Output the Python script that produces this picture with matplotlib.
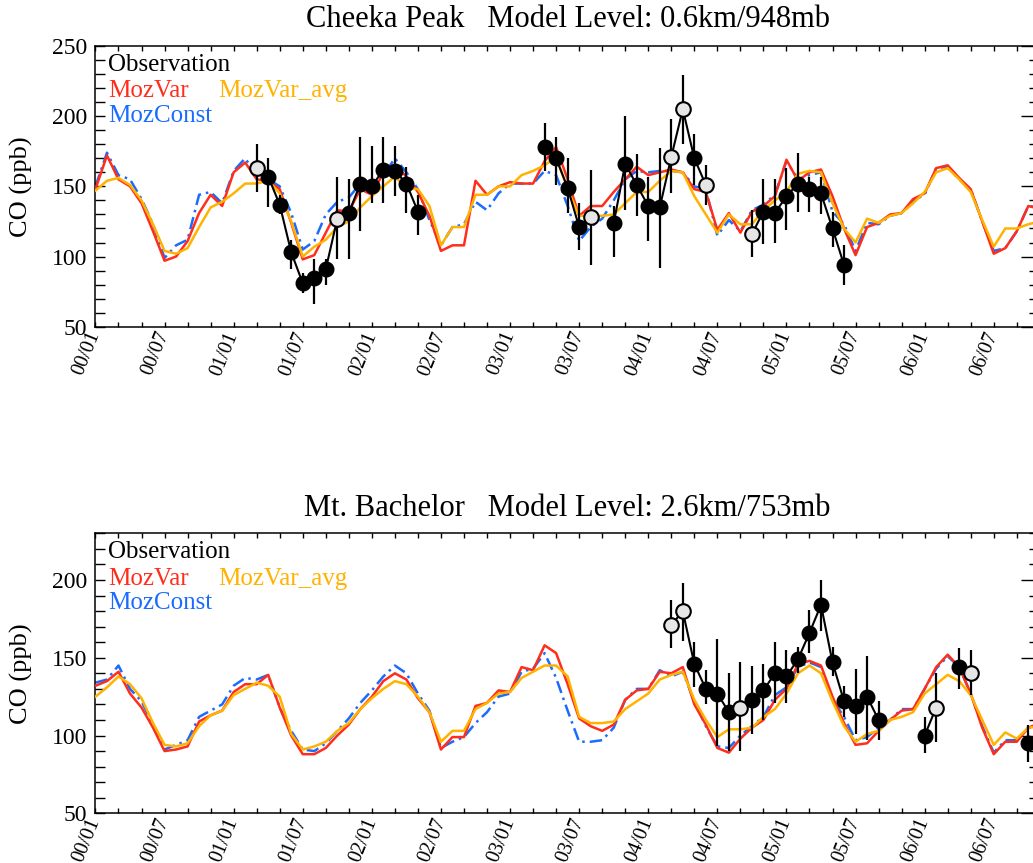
import numpy as np
import matplotlib
matplotlib.use("Agg")
import matplotlib.pyplot as plt
from matplotlib.ticker import MultipleLocator, NullFormatter

plt.rcParams['font.family'] = ['Liberation Serif', 'DejaVu Serif']

# monthly model output, month 0 = 2000/01
months = np.arange(83)
tick_months = [0, 6, 12, 18, 24, 30, 36, 42, 48, 54, 60, 66, 72, 78]
tick_labels = ['00/01', '00/07', '01/01', '01/07', '02/01', '02/07', '03/01',
               '03/07', '04/01', '04/07', '05/01', '05/07', '06/01', '06/07']

# ---- Cheeka Peak, 0.6km/948mb ----
cp_mozvar = [148, 172, 155, 150, 138, 118, 97, 100, 111, 131, 144, 136, 160, 167, 155, 154, 148, 124, 98, 101,
             117, 133, 132, 148, 144, 160, 165, 157, 146, 129, 104, 108, 108, 154, 144, 150, 153, 152, 152, 168,
             178, 155, 129, 136, 136, 146, 155, 164, 158, 160, 162, 160, 148, 146, 119, 131, 117, 132, 136, 143,
             169, 154, 160, 162, 143, 120, 101, 121, 124, 130, 131, 141, 145, 163, 165, 156, 148, 125, 102, 106,
             118, 136, 134]
cp_mozconst = [150, 174, 158, 155, 141, 123, 99, 108, 112, 144, 146, 138, 161, 170, 158, 155, 150, 131, 105, 111,
               130, 139, 142, 152, 151, 158, 170, 160, 148, 126, 108, 121, 123, 139, 133, 145, 152, 152, 152, 161,
               158, 136, 111, 121, 127, 140, 155, 161, 160, 161, 161, 160, 150, 148, 115, 126, 118, 133, 137, 144,
               168, 155, 158, 160, 132, 123, 104, 124, 123, 129, 131, 140, 144, 163, 164, 155, 148, 125, 104, 106,
               118, 136, 135]
cp_mozvar_avg = [147, 154, 156, 151, 140, 123, 104, 102, 106, 121, 135, 139, 145, 152, 152, 154, 145, 125, 100, 107,
                 112, 121, 125, 135, 143, 150, 157, 149, 148, 136, 108, 121, 121, 144, 144, 150, 150, 158, 161, 165,
                 171, 148, 129, 129, 129, 130, 138, 146, 146, 154, 161, 160, 143, 130, 117, 130, 123, 123, 133, 140,
                 146, 159, 161, 160, 138, 120, 110, 127, 124, 129, 131, 138, 146, 160, 163, 155, 146, 126, 107, 120,
                 120, 123, 125]
cp_obs_month = [14, 15, 16, 17, 18, 19, 20, 21, 22, 23, 24, 25, 26, 27, 28,
                39, 40, 41, 42, 43, 45, 46, 47, 48, 49, 50, 51, 52, 53,
                57, 58, 59, 60, 61, 62, 63, 64, 65]
cp_obs = [163, 157, 137, 103, 81, 85, 91, 127, 131, 152, 150, 162, 161, 152, 132,
          178, 170, 149, 121, 128, 124, 166, 151, 136, 135, 171, 205, 170, 151,
          116, 132, 131, 143, 152, 148, 145, 120, 94]
cp_obs_lo = [146, 135, 130, 91, 74, 66, 80, 98, 98, 118, 138, 138, 143, 131, 115,
             161, 151, 131, 105, 94, 100, 133, 129, 111, 92, 145, 180, 151, 137,
             100, 109, 110, 119, 132, 132, 130, 107, 80]
cp_obs_hi = [180, 170, 144, 112, 88, 98, 98, 157, 155, 185, 179, 185, 179, 164, 144,
             195, 185, 170, 138, 162, 136, 200, 173, 157, 177, 198, 229, 187, 165,
             133, 155, 155, 163, 174, 157, 157, 132, 108]
cp_obs_open = [1, 0, 0, 0, 0, 0, 0, 1, 0, 0, 0, 0, 0, 0, 0,
               0, 0, 0, 0, 1, 0, 0, 0, 0, 0, 1, 1, 0, 1,
               1, 0, 0, 0, 0, 0, 0, 0, 0]

# ---- Mt. Bachelor, 2.6km/753mb ----
mb_mozvar = [132, 135, 141, 127, 118, 105, 90, 91, 93, 109, 113, 116, 128, 133, 133, 139, 118, 100, 88, 88,
             92, 100, 107, 117, 125, 135, 140, 136, 124, 115, 91, 99, 99, 119, 121, 129, 128, 144, 142, 158,
             153, 133, 111, 106, 103, 107, 123, 129, 130, 141, 140, 144, 120, 107, 92, 89, 98, 105, 110, 123,
             130, 146, 148, 145, 125, 108, 94, 95, 103, 110, 116, 117, 130, 144, 152, 144, 127, 105, 88, 96,
             96, 105, 108]
mb_mozconst = [134, 136, 145, 130, 122, 107, 91, 94, 97, 112, 116, 120, 132, 137, 136, 139, 118, 103, 91, 90,
               95, 103, 111, 121, 129, 138, 145, 140, 127, 116, 92, 96, 99, 108, 115, 125, 127, 141, 143, 153,
               137, 116, 96, 96, 97, 105, 123, 130, 130, 142, 138, 141, 122, 106, 93, 92, 100, 106, 112, 126,
               131, 144, 147, 144, 123, 112, 97, 99, 105, 110, 117, 117, 130, 143, 151, 144, 127, 106, 89, 97,
               97, 105, 107]
mb_mozvar_avg = [125, 131, 138, 133, 124, 108, 94, 93, 95, 106, 113, 116, 126, 130, 134, 132, 125, 101, 91, 93,
                 96, 103, 108, 117, 124, 130, 135, 133, 125, 115, 96, 103, 103, 117, 121, 127, 128, 137, 141, 145,
                 145, 138, 112, 108, 108, 109, 117, 122, 127, 136, 139, 141, 123, 110, 99, 104, 104, 105, 112, 117,
                 127, 140, 145, 140, 122, 106, 96, 101, 103, 110, 112, 115, 127, 133, 139, 135, 126, 110, 94, 102,
                 98, 105, 106]
mb_obs_month = [50, 51, 52, 53, 54, 55, 56, 57, 58, 59, 60, 61, 62, 63, 64, 65, 66, 67, 68,
                72, 73, 75, 76, 81]
mb_obs = [171, 180, 146, 130, 127, 115, 118, 123, 129, 140, 138, 149, 166, 184, 147, 122, 119, 125, 110,
          100, 118, 144, 140, 95]
mb_obs_lo = [156, 161, 131, 120, 93, 90, 90, 101, 110, 121, 121, 140, 153, 167, 138, 112, 101, 97, 97,
             89, 96, 130, 126, 83]
mb_obs_hi = [187, 198, 160, 142, 162, 140, 147, 145, 146, 160, 155, 157, 181, 200, 157, 132, 143, 151, 122,
             112, 140, 156, 155, 107]
mb_obs_open = [1, 1, 0, 0, 0, 0, 1, 0, 0, 0, 0, 0, 0, 0, 0, 0, 0, 0, 0,
               0, 1, 0, 1, 0]

RED = '#ff2e1c'
ORANGE = '#ffb300'
BLUE = '#1a6cff'

fig = plt.figure(figsize=(10.33, 8.63), dpi=100)


def panel(rect, title, title_y, ylim, mozvar, mozconst, mozavg, om, ov, olo, ohi, oopen):
    ax = fig.add_axes(rect)
    ax.plot(months, mozconst, color=BLUE, lw=1.8, dashes=[5, 2, 1, 2], zorder=2)
    ax.plot(months, mozvar, color=RED, lw=1.8, zorder=3)
    ax.plot(months, mozavg, color=ORANGE, lw=1.8, zorder=4)

    om = np.array(om)
    ov = np.array(ov, dtype=float)
    # observation line, broken where months are missing
    breaks = np.where(np.diff(om) > 1)[0] + 1
    for seg_m, seg_v in zip(np.split(om, breaks), np.split(ov, breaks)):
        ax.plot(seg_m, seg_v, color='black', lw=1.5, zorder=5)
    ax.vlines(om, olo, ohi, color='black', lw=1.6, zorder=5)
    is_open = np.array(oopen, dtype=bool)
    ax.plot(om[~is_open], ov[~is_open], 'o', ms=10.5, mfc='black', mec='black', zorder=6)
    ax.plot(om[is_open], ov[is_open], 'o', ms=10.5, mfc='#e6e6e6', mec='black', mew=1.5, zorder=6)

    ax.set_xlim(0, 82)
    ax.set_ylim(*ylim)
    ax.set_xticks(tick_months)
    ax.set_xticklabels(tick_labels)
    ax.xaxis.set_minor_locator(MultipleLocator(2))
    ax.yaxis.set_major_locator(MultipleLocator(50))
    ax.yaxis.set_minor_locator(MultipleLocator(10))
    ax.tick_params(axis='x', which='both', direction='in', top=True, length=3.5, width=1, pad=4,
                   labelsize=14.5)
    ax.tick_params(axis='y', which='both', direction='in', right=False, length=7, width=1, pad=6,
                   labelsize=17)
    for lab in ax.get_xticklabels():
        lab.set_rotation(68)
        lab.set_ha('right')
        lab.set_va('center')
        lab.set_rotation_mode('anchor')
    sec = ax.secondary_yaxis('right')
    sec.yaxis.set_major_locator(MultipleLocator(50))
    sec.yaxis.set_minor_locator(MultipleLocator(10))
    sec.yaxis.set_major_formatter(NullFormatter())
    sec.tick_params(which='major', direction='in', length=14, width=1)
    sec.tick_params(which='minor', direction='in', length=8, width=1)
    for sp in ax.spines.values():
        sp.set_linewidth(1.1)

    ax.text(0.013, 0.932, 'Observation', transform=ax.transAxes, fontsize=18, color='black', va='center')
    ax.text(0.013, 0.838, 'MozVar', transform=ax.transAxes, fontsize=18, color=RED, va='center')
    ax.text(0.130, 0.838, 'MozVar_avg', transform=ax.transAxes, fontsize=18, color=ORANGE, va='center')
    ax.text(0.013, 0.751, 'MozConst', transform=ax.transAxes, fontsize=18, color=BLUE, va='center')

    fig.text(0.021, rect[1] + rect[3] / 2, 'CO (ppb)', rotation=90, fontsize=19, ha='center', va='center')
    fig.text(rect[0] + rect[2] / 2, title_y, title, fontsize=22, ha='center', va='center')
    return ax


panel([0.0924, 0.6214, 0.9142, 0.3253], 'Cheeka Peak   Model Level: 0.6km/948mb', 0.977, (50, 250),
      cp_mozvar, cp_mozconst, cp_mozvar_avg, cp_obs_month, cp_obs, cp_obs_lo, cp_obs_hi, cp_obs_open)
panel([0.0924, 0.0576, 0.9142, 0.3244], 'Mt. Bachelor   Model Level: 2.6km/753mb', 0.411, (50, 230),
      mb_mozvar, mb_mozconst, mb_mozvar_avg, mb_obs_month, mb_obs, mb_obs_lo, mb_obs_hi, mb_obs_open)

fig.savefig('out.png', dpi=100)
